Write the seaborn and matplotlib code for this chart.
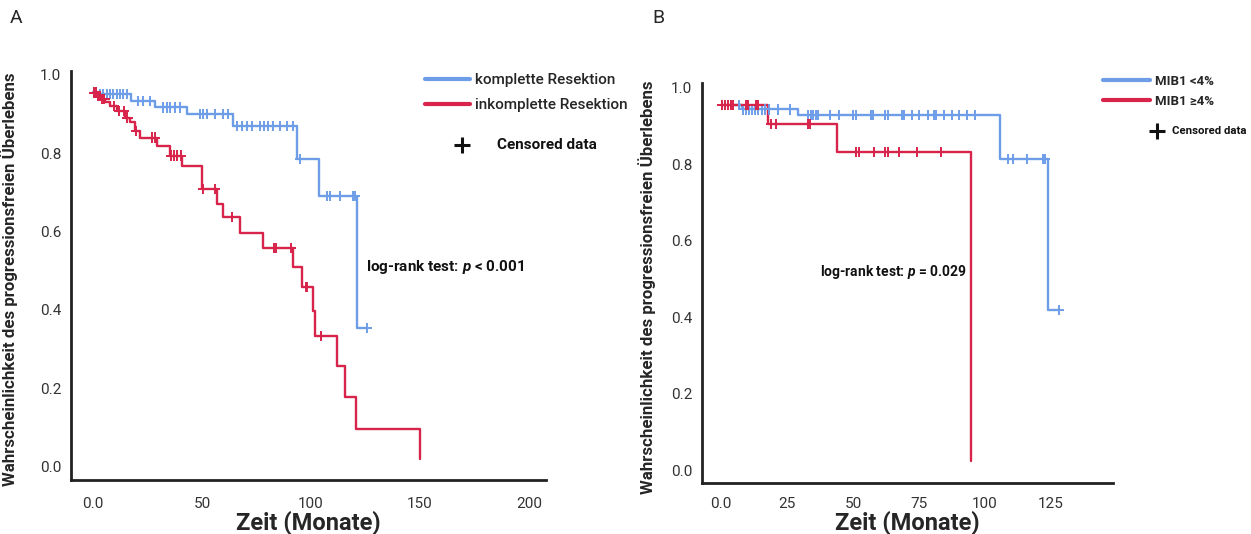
import numpy as np
import pandas as pd
import matplotlib
matplotlib.use("Agg")
import matplotlib.pyplot as plt
import seaborn as sns
from matplotlib.lines import Line2D
from matplotlib.font_manager import FontProperties

# ---------------- data ----------------
# Panel A: komplette Resektion (blue)
a_blue_t = [0, 3, 17.4, 28.4, 43, 64.4, 93.4, 103.8, 121.3, 126.3]
a_blue_s = [0.957, 0.951, 0.934, 0.917, 0.900, 0.870, 0.785, 0.690, 0.353, 0.353]
a_blue_cens = [3.2, 4.7, 6.2, 7.8, 9.3, 10.9, 12.4, 13.9, 15.4, 20.8, 23.1, 26.1,
               32.3, 33.8, 35.3, 37.6, 39.9, 49.1, 50.6, 52.1, 56.0, 59.8, 62.1,
               65.9, 68.2, 70.5, 72.8, 76.6, 78.4, 80.4, 82.7, 85.8, 88.8, 91.9,
               95.0, 107.2, 108.7, 113.3, 119.4, 120.2, 125.7]
# Panel A: inkomplette Resektion (red)
a_red_t = [0, 1.8, 3.4, 5.7, 8.0, 10.9, 14.7, 17.0, 19.3, 21.6, 29.2, 35.3, 40.7,
           49.8, 56.7, 59.8, 67.4, 78.1, 91.9, 95.7, 100.8, 101.8, 111.8, 115.6,
           120.5, 150.0]
a_red_s = [0.955, 0.947, 0.938, 0.930, 0.921, 0.908, 0.891, 0.879, 0.857, 0.840,
           0.819, 0.794, 0.766, 0.709, 0.671, 0.637, 0.596, 0.558, 0.510, 0.459,
           0.398, 0.333, 0.255, 0.177, 0.096, 0.018]
a_red_cens = [0.5, 1.2, 2.2, 3.0, 4.2, 5.2, 9.5, 12.0, 14.0, 15.8, 19.8, 26.9, 28.4,
              35.8, 37.2, 38.4, 40.2, 50.3, 55.9, 63.6, 83.2, 83.8, 90.7, 97.7,
              98.2, 104.6]

# Panel B: MIB1 <4% (blue)
b_blue_t = [0, 7.8, 29.3, 105.7, 123.7, 128.4]
b_blue_s = [0.955, 0.944, 0.929, 0.814, 0.418, 0.418]
b_blue_cens = [7.0, 8.2, 9.4, 10.6, 11.8, 13.0, 14.2, 15.4, 16.6, 18.0, 21.7, 26.1,
               33.1, 34.1, 35.0, 36.0, 36.9, 41.2, 44.7, 50.0, 51.0, 56.8, 57.7,
               62.3, 63.2, 68.6, 69.4, 72.4, 74.9, 78.5, 80.6, 81.5, 84.3, 87.4,
               90.2, 93.1, 96.2, 108.8, 110.7, 115.8, 121.9, 122.7, 128.0]
# Panel B: MIB1 >=4% (red)
b_red_t = [0, 17.9, 43.8, 94.8]
b_red_s = [0.955, 0.905, 0.833, 0.024]
b_red_cens = [0.3, 1.5, 2.6, 3.6, 4.5, 9.5, 10.4, 13.3, 13.9, 18.9, 20.8, 33.1,
              33.7, 51.2, 52.1, 58.1, 62.3, 63.2, 67.3, 74.4, 83.2]

labels_a = ["komplette Resektion", "inkomplette Resektion"]
labels_b = ["MIB1 <4%", "MIB1 \u22654%"]
xticks_a = [0, 50, 100, 150, 200]
xticklabels_a = ["0.0", "50", "100", "150", "200"]
xticks_b = [0, 25, 50, 75, 100, 125]
xticklabels_b = ["0.0", "25", "50", "75", "100", "125"]
yticks = [0.0, 0.2, 0.4, 0.6, 0.8, 1.0]
yticklabels = ["0.0", "0.2", "0.4", "0.6", "0.8", "1.0"]

BLUE = "#6E9DE8"
RED = "#D8234A"

# ---------------- style ----------------
sns.set_theme(style="white")
plt.rcParams["font.family"] = ["Roboto", "DejaVu Sans"]
plt.rcParams["mathtext.fontset"] = "custom"
plt.rcParams["mathtext.it"] = "Roboto:italic:bold"
plt.rcParams["mathtext.rm"] = "Roboto:bold"


def nfp(size, weight="bold"):
    return FontProperties(family=["Roboto", "DejaVu Sans"], weight=weight, size=size)


W, H = 1251, 534


def curve_frame(t, s, label):
    return pd.DataFrame({"t": t, "s": s, "group": label})


def cens_frame(t_steps, s_steps, cens, label):
    t_steps = np.asarray(t_steps)
    s_steps = np.asarray(s_steps)
    idx = np.searchsorted(t_steps, np.asarray(cens), side="right") - 1
    return pd.DataFrame({"t": cens, "s": s_steps[idx], "group": label})


fig = plt.figure(figsize=(W / 100, H / 100), dpi=100)
axA = fig.add_axes([71 / W, 1 - 480 / H, 475 / W, 409 / H])
axB = fig.add_axes([702 / W, 1 - 483 / H, 411 / W, 400 / H])

panels = [
    (axA, [(a_blue_t, a_blue_s, a_blue_cens), (a_red_t, a_red_s, a_red_cens)], labels_a,
     (-10.1, 207.8), (-0.035, 1.010), xticks_a, xticklabels_a, 11, 480, 12),
    (axB, [(b_blue_t, b_blue_s, b_blue_cens), (b_red_t, b_red_s, b_red_cens)], labels_b,
     (-7.2, 148.5), (-0.034, 1.013), xticks_b, xticklabels_b, 11, 483, 10),
]

for ax, curves, labels, xl, yl, xt, xtl, tsize, ybottom, xpad in panels:
    lines = pd.concat([curve_frame(t, s, lab) for (t, s, _), lab in zip(curves, labels)])
    cens = pd.concat([cens_frame(t, s, c, lab) for (t, s, c), lab in zip(curves, labels)])
    pal = {labels[0]: BLUE, labels[1]: RED}
    sns.lineplot(data=lines, x="t", y="s", hue="group", palette=pal, ax=ax,
                 estimator=None, sort=False, drawstyle="steps-post", lw=1.7,
                 legend=False)
    sns.scatterplot(data=cens, x="t", y="s", hue="group", palette=pal, ax=ax,
                    marker="+", s=55, linewidth=1.4, legend=False, zorder=3)
    ax.set_xlim(*xl)
    ax.set_ylim(*yl)
    ax.set_xticks(xt)
    ax.set_xticklabels(xtl)
    ax.set_yticks(yticks)
    ax.set_yticklabels(yticklabels)
    ax.tick_params(axis="both", length=0, labelsize=tsize, labelcolor="#333333")
    ax.tick_params(axis="x", pad=xpad)
    ax.tick_params(axis="y", pad=7)
    for side in ["top", "right"]:
        ax.spines[side].set_visible(False)
    for side in ["left", "bottom"]:
        ax.spines[side].set_color("#222222")
        ax.spines[side].set_linewidth(2.0)
    ax.set_xlabel("Zeit (Monate)", fontsize=17, fontweight="bold")
    hpx = ax.get_position().height * H
    ax.xaxis.set_label_coords(0.5, (ybottom - 511) / hpx)
    ax.set_ylabel("Wahrscheinlichkeit des progressionsfreien \u00dcberlebens",
                  fontsize=12.2, fontweight="bold")
    ax.yaxis.set_label_coords(-0.112, 0.49)

# annotations
axA.text(125.2, 0.509, r"log-rank test: $p$ < 0.001", fontproperties=nfp(11),
         va="center", ha="left", color="#111111")
axB.text(37.5, 0.517, r"log-rank test: $p$ = 0.029", fontproperties=nfp(10),
         va="center", ha="left", color="#111111")


# legends
def add_legend(labels, x0, y0, prop, hlen_px, spacing):
    fs_px = prop.get_size_in_points() * 100 / 72
    handles = [Line2D([], [], color=BLUE, lw=3), Line2D([], [], color=RED, lw=3)]
    fig.legend(handles, labels, loc="upper left",
               bbox_to_anchor=((x0 - 0.4 * fs_px) / W, 1 - (y0 - 0.4 * fs_px) / H),
               frameon=False, handlelength=hlen_px / fs_px, handletextpad=0.35,
               labelspacing=spacing, borderaxespad=0, prop=prop)


def add_censored(xp, yp, xt, prop, msize):
    fig.add_artist(Line2D([xp / W], [1 - yp / H], transform=fig.transFigure,
                          marker="+", markersize=msize, markeredgewidth=2.2,
                          color="#111111", lw=0))
    fig.text(xt / W, 1 - yp / H, "Censored data", fontproperties=prop,
             va="center", ha="left", color="#111111")


add_legend(labels_a, 425, 73, nfp(11, "medium"), 45, 0.75)
add_censored(462, 145, 497, nfp(11), 12)
add_legend(labels_b, 1103, 75, nfp(9.5), 47, 0.5)
add_censored(1157, 131, 1172, nfp(8.2), 11)

fig.text(10 / W, 1 - 18 / H, "A", fontsize=14, va="center", ha="left")
fig.text(652 / W, 1 - 18 / H, "B", fontsize=14, va="center", ha="left")

fig.savefig("out.png", dpi=100)
